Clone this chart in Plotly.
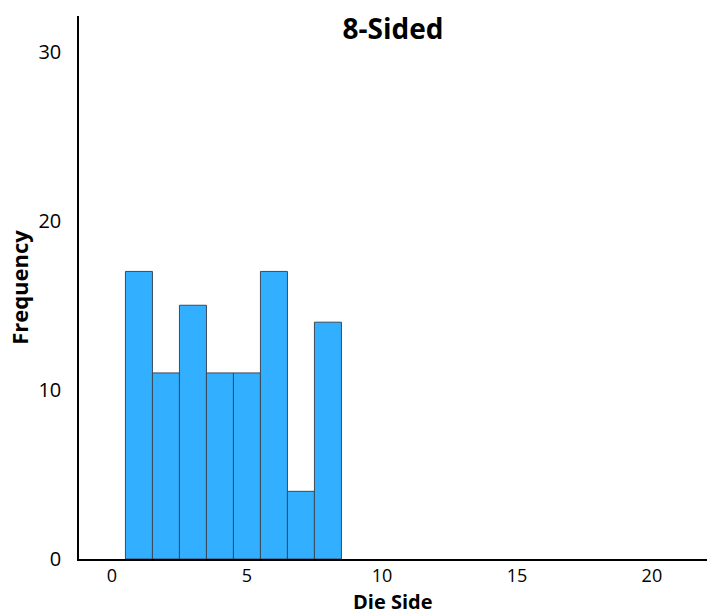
import plotly.graph_objects as go

sides = [1, 2, 3, 4, 5, 6, 7, 8]
freq = [17, 11, 15, 11, 11, 17, 4, 14]
x_ticks = [0, 5, 10, 15, 20]
y_ticks = [0, 10, 20, 30]

font = "Open Sans, Lato, sans-serif"

fig = go.Figure(go.Bar(
    x=sides, y=freq, width=1,
    marker=dict(color="#33AFFF", line=dict(color="#3a4a5a", width=1)),
))

fig.update_layout(
    width=707, height=616,
    margin=dict(l=79, r=0, t=16, b=57),
    paper_bgcolor="white", plot_bgcolor="white",
    showlegend=False,
    font=dict(family=font, size=20, color="black"),
    title=dict(text="<b>8-Sided</b>", x=0.556, xanchor="center",
               y=1 - 29 / 616, yanchor="middle", yref="container",
               font=dict(size=28, family=font, color="black")),
    annotations=[dict(text="<b>Die Side</b>", xref="paper", yref="paper",
                      x=0.5, y=-(601 - 559) / 543, xanchor="center", yanchor="middle",
                      showarrow=False, font=dict(size=20, family=font, color="black"))],
)
fig.update_xaxes(
    range=[-1.22, 22.04], tickvals=x_ticks, ticks="", showgrid=False,
    zeroline=False, showline=True, linecolor="black", linewidth=1.5,
    tickfont=dict(size=18),
)
fig.update_yaxes(
    range=[0, 32.1], tickvals=y_ticks, ticks="outside", ticklen=12, tickcolor="white",
    showgrid=False, zeroline=False, showline=True, linecolor="black", linewidth=1.5,
    title=dict(text="<b>Frequency</b>", standoff=4, font=dict(size=22)),
    tickfont=dict(size=20),
)

fig.write_html("out.html", config={"displayModeBar": False},
               post_script="document.body.style.margin='0';document.body.style.padding='0';")
